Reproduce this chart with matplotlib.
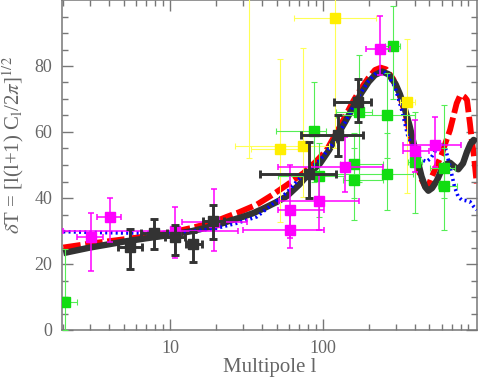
import numpy as np
import matplotlib
matplotlib.use("Agg")
import matplotlib.pyplot as plt
from matplotlib.ticker import FixedLocator, NullFormatter, FixedFormatter

plt.rcParams["font.family"] = ["Liberation Serif", "DejaVu Serif"]
plt.rcParams["mathtext.fontset"] = "stix"

# --- model curves (multipole l, delta T) ---
black_l = [2, 3, 4, 5, 7, 10, 14, 20, 25, 30, 35, 40, 50, 58, 70, 78, 96, 110, 123,
           140, 159, 180, 200, 220, 245, 270, 300, 320, 345, 370, 390, 415, 444, 470,
           492, 520, 560, 600, 640, 682, 730, 773, 830, 881, 930, 974, 1020]
black_v = [23.3, 25.0, 26.0, 26.8, 27.8, 28.8, 30.0, 31.7, 33.2, 34.3, 35.4, 36.6, 38.8,
           40.5, 44.0, 46.5, 50.5, 54.5, 58.6, 63.0, 67.7, 72.0, 75.2, 77.3, 78.3, 77.5,
           74.5, 71.5, 67.0, 62.0, 57.5, 52.0, 46.5, 43.3, 42.2, 43.0, 45.3, 48.5, 50.2,
           50.7, 49.5, 48.7, 50.5, 54.0, 56.5, 57.6, 57.0]

red_l = [2, 3, 5, 7, 10, 12, 14, 17, 20, 23.5, 28, 37, 47, 58, 74.5, 90, 106, 130, 159,
         180, 200, 220, 240, 260, 290, 320, 350, 380, 410, 440, 468, 495, 519, 560, 600,
         640, 682, 720, 754, 790, 813, 850, 881, 921, 950, 974, 1000, 1020]
red_v = [25.0, 26.2, 27.5, 28.4, 29.5, 30.3, 31.0, 32.0, 33.0, 34.3, 35.6, 38.0, 41.0,
         43.9, 47.5, 51.0, 54.5, 61.8, 69.5, 73.5, 76.5, 78.8, 79.5, 79.0, 76.0, 71.0,
         65.0, 58.0, 51.0, 46.0, 43.5, 44.0, 46.5, 50.0, 53.0, 57.0, 60.6, 65.0, 68.7,
         70.8, 71.2, 70.6, 69.7, 62.6, 57.0, 53.5, 48.5, 44.4]

blue_l = [2, 3, 5, 8, 10, 14, 20, 27, 37, 45, 58, 67.5, 80, 96, 117, 143, 170, 200, 225,
          245, 265, 297, 330, 362, 395, 424, 450, 478, 510, 542, 575, 600, 632, 682, 730,
          770, 813, 870, 921, 970, 1020]
blue_v = [29.8, 29.6, 29.4, 29.4, 29.6, 29.9, 30.8, 32.3, 34.3, 37.5, 41.6, 45.0, 48.5,
          51.5, 56.6, 63.6, 70.5, 75.5, 78.0, 78.5, 77.5, 73.7, 66.5, 58.6, 54.5, 52.5,
          51.5, 51.0, 52.0, 54.0, 56.5, 57.0, 55.6, 49.5, 43.4, 40.5, 39.4, 39.2, 38.9,
          37.5, 36.4]

# --- data points: l, value, l range, value range ---
blk_l = [5.47, 7.9, 10.8, 14.2, 19.2, 81.7, 126, 169]
blk_v = [25.1, 29.3, 28.1, 26.1, 33.1, 47.3, 59.2, 69.2]
blk_llo = [4.59, 6.45, 9.3, 12.7, 16.4, 38.8, 72.4, 118]
blk_lhi = [6.52, 9.5, 12.5, 16.1, 22.6, 122, 183, 206]
blk_vlo = [18.5, 24.5, 22.7, 20.7, 27.5, 39.9, 52.8, 63.1]
blk_vhi = [30.5, 33.5, 31.8, 29.8, 37.9, 57.0, 65.2, 76.0]

mag_l = [3.04, 4.05, 10.8, 19.5, 61.1, 61.1, 95, 140, 238, 402, 543]
mag_v = [28.1, 34.1, 30.0, 32.8, 36.4, 30.3, 39.1, 49.5, 85.2, 54.3, 56.1]
mag_llo = [2.45, 3.31, 2.0, 11.9, 51.2, 30.0, 51.8, 51.0, 192, 334, 337]
mag_lhi = [3.66, 4.77, 28.0, 31.8, 102, 102, 173, 247, 276, 498, 804]
mag_vlo = [17.9, 26.8, 21.7, 23.9, 28.0, 24.8, 30.3, 41.7, 77.3, 48.0, 49.5]
mag_vhi = [35.5, 40.1, 37.4, 42.6, 50.0, 36.4, 47.0, 58.6, 95.2, 63.6, 64.6]

grn_l = [2.05, 87.7, 172, 290, 265, 265, 160, 160, 95, 402, 625, 625]
grn_v = [8.6, 60.3, 66.2, 86.2, 65.0, 47.3, 45.5, 50.2, 46.7, 51.0, 49.0, 43.6]
grn_llo = [2.0, 49.3, 123, 256, 123, 91, 136, 130, 51, 360, 505, 570]
grn_lhi = [2.45, 105, 209, 320, 402, 391, 247, 247, 140, 450, 734, 755]
grn_vlo = [0.0, 45.0, 45.0, 70.0, 52.0, 36.4, 33.3, 40.0, 34.3, 35.4, 40.0, 30.3]
grn_vhi = [24.4, 75.2, 83.3, 98.2, 78.0, 59.7, 55.0, 59.6, 56.6, 66.2, 68.2, 55.0]

yel_l = [121, 52.5, 74.1, 355, 33]
yel_v = [94.6, 54.8, 55.8, 69.2, 105]
yel_llo = [65, 33.9, 26.7, 322, 28]
yel_lhi = [222, 80, 110, 402, 39]
yel_vlo = [55.0, 32.8, 40.4, 41.4, 52.0]
yel_vhi = [105, 82.0, 85.4, 88.1, 130]

fig = plt.figure(figsize=(4.79, 3.78), dpi=100)
ax = fig.add_axes([62 / 479, 48 / 378, 414.7 / 479, 330 / 378])
ax.set_xscale("log")

ax.plot(red_l, red_v, color="#ff0000", lw=4.2, dashes=(3, 0.8), zorder=2)
ax.plot(black_l, black_v, color="#333333", lw=4.6, solid_capstyle="butt", zorder=3)
ax.plot(blue_l, blue_v, color="#0000ff", lw=2.6, dashes=(0.55, 0.9),
        dash_capstyle="butt", zorder=4)


def draw_points(l, v, llo, lhi, vlo, vhi, color, ecolor, ms, elw, cap, z):
    l = np.array(l)
    v = np.array(v)
    xerr = [l - np.array(llo), np.array(lhi) - l]
    yerr = [v - np.array(vlo), np.array(vhi) - v]
    ax.errorbar(l, v, xerr=xerr, yerr=yerr, fmt="s", ms=ms, mfc=color, mec=color,
                ecolor=ecolor, elinewidth=elw, capsize=cap, capthick=elw, zorder=z)


draw_points(yel_l, yel_v, yel_llo, yel_lhi, yel_vlo, yel_vhi,
            "#ffee00", "#ffff55", 6.5, 0.8, 2.2, 5)
draw_points(grn_l, grn_v, grn_llo, grn_lhi, grn_vlo, grn_vhi,
            "#11dd11", "#55ee55", 6.5, 0.8, 2.2, 6)
draw_points(mag_l, mag_v, mag_llo, mag_lhi, mag_vlo, mag_vhi,
            "#ff00ff", "#ff00ff", 6.5, 1.1, 2.2, 7)
draw_points(blk_l, blk_v, blk_llo, blk_lhi, blk_vlo, blk_vhi,
            "#333333", "#333333", 7.5, 2.1, 2.8, 8)

ax.set_xlim(1.96, 1020)
ax.set_ylim(0, 100)

grey = "#777777"
minor_x = [m * d for d in (1, 10, 100) for m in range(2, 10) if 1.96 <= m * d <= 1020]
ax.xaxis.set_major_locator(FixedLocator([10, 100]))
ax.xaxis.set_major_formatter(FixedFormatter(["10", "100"]))
ax.xaxis.set_minor_locator(FixedLocator(minor_x))
ax.xaxis.set_minor_formatter(NullFormatter())
ax.yaxis.set_major_locator(FixedLocator([0, 20, 40, 60, 80]))
ax.yaxis.set_minor_locator(FixedLocator(list(range(5, 100, 5))))

ax.tick_params(which="both", direction="in", top=True, right=True, colors=grey,
               labelcolor="#666666", labelsize=13, pad=7, width=1.0)
ax.tick_params(which="major", length=8)
ax.tick_params(which="minor", length=4.3)
for s in ax.spines.values():
    s.set_color(grey)
    s.set_linewidth(1.1)

ax.set_xlabel("Multipole l", fontsize=15, color="#666666")
ax.set_ylabel(r"$\delta$T = [l(l+1) C$_{\rm l}$/2$\pi$]$^{1/2}$", fontsize=15,
              color="#666666")
ax.xaxis.set_label_coords(0.5, -0.086)
ax.yaxis.set_label_coords(-0.088, 0.56)

fig.savefig("out.png", dpi=100)
